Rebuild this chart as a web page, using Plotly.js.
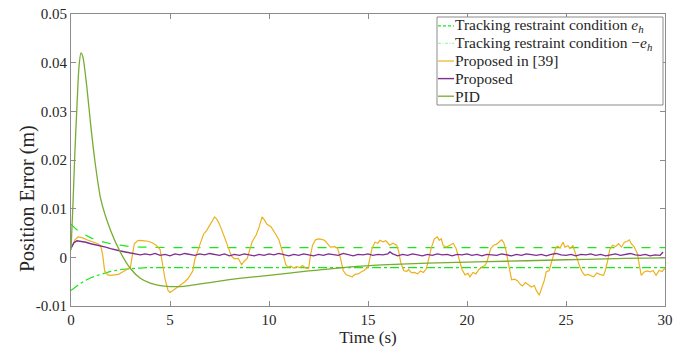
<!DOCTYPE html>
<html>
<head>
<meta charset="utf-8">
<script src="https://cdn.plot.ly/plotly-3.0.1.min.js"></script>
<style>html,body{margin:0;padding:0;background:#fff;}#chart{width:687px;height:354px;}</style>
</head>
<body>
<div id="chart"></div>
<script>
// ---- data ----
var boundT = [0, 0.25, 0.5, 0.75, 1.0, 1.5, 2.0, 2.5, 3.0, 3.5, 4.0, 5.0, 10, 15, 20, 25, 30];
var boundUpper = [0.0068, 0.0058, 0.0051, 0.0045, 0.0040, 0.0033, 0.0028, 0.0025, 0.0022, 0.0021, 0.00205, 0.0020, 0.0020, 0.0020, 0.0020, 0.0020, 0.0020];
var boundLower = [-0.0068, -0.0060, -0.0053, -0.0047, -0.0042, -0.0035, -0.0029, -0.0025, -0.0023, -0.0022, -0.0021, -0.0021, -0.0021, -0.0021, -0.0021, -0.0021, -0.0021];

var refT = [0,0.1,0.2,0.35,0.5,0.6,0.8,1.0,1.2,1.35,1.5,1.6,1.7,1.85,2.0,2.2,2.4,2.6,2.8,3.0,3.1,3.2,3.35,3.5,3.7,3.9,4.1,4.3,4.5,4.6,4.75,4.9,5.0,5.15,5.35,5.55,5.75,5.9,6.05,6.15,6.25,6.35,6.5,6.7,6.85,6.95,7.1,7.25,7.35,7.45,7.6,7.75,7.95,8.1,8.25,8.45,8.55,8.62,8.75,8.9,9.0,9.15,9.35,9.5,9.65,9.75,9.9,10.1,10.3,10.5,10.7,10.85,10.95,11.1,11.25,11.4,11.55,11.7,11.85,12.0,12.1,12.2,12.35,12.5,12.65,12.8,12.95,13.1,13.3,13.45,13.6,13.75,13.9,14.05,14.2,14.35,14.5,14.65,14.8,15.0,15.1,15.2,15.35,15.5,15.6,15.75,15.9,16.0,16.1,16.25,16.45,16.55,16.65,16.8,16.95,17.05,17.2,17.35,17.5,17.65,17.8,17.95,18.1,18.2,18.35,18.5,18.6,18.7,18.8,18.95,19.1,19.3,19.45,19.6,19.75,19.9,20.05,20.15,20.3,20.45,20.6,20.75,20.9,21.0,21.1,21.2,21.35,21.5,21.6,21.75,21.85,21.95,22.05,22.15,22.25,22.4,22.55,22.7,22.8,22.95,23.1,23.25,23.4,23.5,23.65,23.8,23.9,24.0,24.15,24.3,24.4,24.5,24.6,24.7,24.85,24.95,25.1,25.2,25.35,25.45,25.55,25.7,25.85,25.95,26.1,26.25,26.4,26.55,26.7,26.9,27.0,27.1,27.2,27.35,27.5,27.65,27.8,27.95,28.1,28.2,28.3,28.45,28.6,28.7,28.8,28.95,29.1,29.25,29.4,29.55,29.7,29.85,30.0];
var refV = [0.0018,0.0028,0.0036,0.0042,0.0041,0.0040,0.0036,0.0033,0.0030,0.0028,0.0024,0.0005,-0.0028,-0.0036,-0.0037,-0.0036,-0.0035,-0.0030,-0.0026,-0.0021,0.0005,0.0028,0.0034,0.0035,0.0034,0.0033,0.0030,0.0025,0.0016,-0.0010,-0.0045,-0.0068,-0.0072,-0.0068,-0.0062,-0.0057,-0.0050,-0.0044,-0.0035,-0.0028,-0.0005,0.0008,0.0025,0.0048,0.0055,0.0062,0.0072,0.0083,0.0079,0.0072,0.0058,0.0042,0.0018,0.0003,-0.0003,-0.0002,-0.0010,-0.0015,-0.0008,-0.0002,0.0012,0.0032,0.0046,0.0062,0.0083,0.0078,0.0068,0.0063,0.0050,0.0036,0.0008,-0.0015,-0.0020,-0.0018,-0.0022,-0.0019,-0.0021,-0.0017,-0.0022,-0.0023,0.0005,0.0025,0.0036,0.0038,0.0037,0.0035,0.0028,0.0021,0.0022,0.0020,0.0000,-0.0027,-0.0036,-0.0038,-0.0040,-0.0035,-0.0034,-0.0030,-0.0027,-0.0020,0.0002,0.0018,0.0031,0.0029,0.0035,0.0032,0.0034,0.0030,0.0025,0.0029,0.0025,0.0012,-0.0010,-0.0027,-0.0029,-0.0025,-0.0032,-0.0031,-0.0034,-0.0028,-0.0031,-0.0023,0.0005,0.0020,0.0038,0.0042,0.0035,0.0038,0.0024,0.0021,0.0024,0.0029,0.0018,-0.0005,-0.0025,-0.0036,-0.0033,-0.0040,-0.0031,-0.0034,-0.0025,-0.0020,-0.0017,-0.0010,0.0005,0.0018,0.0025,0.0027,0.0031,0.0036,0.0031,0.0018,-0.0003,-0.0025,-0.0046,-0.0045,-0.0048,-0.0056,-0.0059,-0.0052,-0.0056,-0.0061,-0.0058,-0.0068,-0.0078,-0.0060,-0.0048,-0.0030,-0.0027,-0.0005,0.0008,0.0021,0.0023,0.0019,0.0031,0.0021,0.0024,0.0018,0.0024,0.0012,-0.0003,-0.0020,-0.0032,-0.0037,-0.0035,-0.0038,-0.0040,-0.0032,-0.0035,-0.0037,-0.0025,-0.0008,0.0015,0.0025,0.0022,0.0028,0.0021,0.0031,0.0033,0.0036,0.0028,0.0021,0.0008,-0.0015,-0.0037,-0.0030,-0.0028,-0.0030,-0.0027,-0.0037,-0.0027,-0.0029,-0.0022];

var propT = [0,0.15,0.3,0.5,0.75,1.0,1.25,1.5,1.75,2.0,2.25,2.5,2.75,3.0,3.25,3.5,3.75,4.0,4.25,4.5,4.75,5.0,5.25,5.5,5.75,6.0,6.25,6.5,6.75,7.0,7.25,7.5,7.75,8.0,8.25,8.5,8.75,9.0,9.25,9.5,9.75,10.0,10.25,10.5,10.75,11.0,11.25,11.5,11.75,12.0,12.25,12.5,12.75,13.0,13.25,13.5,13.75,14.0,14.25,14.5,14.75,15.0,15.25,15.5,15.75,16.0,16.1,16.25,16.5,16.75,17.0,17.25,17.5,17.75,18.0,18.25,18.5,18.75,19.0,19.25,19.5,19.75,20.0,20.25,20.5,20.75,21.0,21.25,21.5,21.75,22.0,22.25,22.5,22.75,23.0,23.25,23.5,23.75,24.0,24.25,24.5,24.75,25.0,25.25,25.5,25.75,26.0,26.25,26.5,26.75,27.0,27.25,27.5,27.75,28.0,28.25,28.5,28.75,29.0,29.25,29.5,29.75,29.9,30.0];
var propV = [0.0019,0.0030,0.0034,0.0033,0.0031,0.0028,0.0026,0.0024,0.0021,0.0018,0.0015,0.0013,0.0011,0.0009,0.00075,0.0005,0.0007,0.0005,0.0008,0.0004,0.0006,0.0003,0.0007,0.0005,0.0008,0.0006,0.0004,0.0007,0.0005,0.0008,0.0006,0.0004,0.0007,0.0003,0.0006,0.0004,0.0007,0.0005,0.0003,0.0006,0.0004,0.0007,0.0005,0.0008,0.0005,0.0003,0.0006,0.0004,0.0007,0.0005,0.0003,0.0006,0.0004,0.0007,0.0005,0.0004,0.0008,0.0006,0.0003,0.0006,0.0005,0.0007,0.0004,0.0006,0.0005,0.0007,0.0011,0.0007,0.0003,0.0006,0.0004,0.0007,0.0005,0.0003,0.0006,0.0004,0.0007,0.0005,0.0006,0.0003,0.0006,0.0005,0.0007,0.0004,0.0006,0.0003,0.0006,0.0005,0.0004,0.0007,0.0005,0.0003,0.0006,0.0004,0.0007,0.0005,0.0004,0.0006,0.0003,0.0006,0.0008,0.0005,0.0004,0.0006,0.0003,0.0006,0.0005,0.0007,0.0004,0.0006,0.0003,0.0005,0.0007,0.0004,0.0006,0.0008,0.0005,0.0004,0.0006,0.0003,0.0005,0.0004,0.0011];

var pidT = [0,0.1,0.2,0.3,0.4,0.5,0.6,0.8,1.0,1.2,1.5,2.0,2.5,3.0,3.5,4.0,4.5,5.0,5.5,6.0,7.0,8.0,9.0,10,12,14,16,18,20,22,24,26,28,30];
var pidV = [0.0015,0.011,0.022,0.031,0.039,0.042,0.0412,0.035,0.027,0.020,0.012,0.0055,0.0010,-0.0023,-0.0043,-0.0053,-0.0058,-0.0060,-0.0060,-0.0058,-0.0052,-0.0046,-0.0041,-0.0037,-0.0028,-0.0020,-0.0015,-0.0012,-0.0010,-0.0008,-0.0006,-0.0004,-0.0002,-0.0001];

var xTicks = [0, 5, 10, 15, 20, 25, 30];
var yTicks = [-0.01, 0, 0.01, 0.02, 0.03, 0.04, 0.05];
var yTickText = ['-0.01', '0', '0.01', '0.02', '0.03', '0.04', '0.05'];

var names = [
  'Tracking restraint condition <i>e</i><sub><i>h</i></sub>',
  'Tracking restraint condition \u2212<i>e</i><sub><i>h</i></sub>',
  'Proposed in [39]',
  'Proposed',
  'PID'
];
var xTitle = 'Time (s)';
var yTitle = 'Position Error (m)';

// ---- styles ----
var FONT = 'Liberation Serif';
var TXT = '#262626';
var styles = [
  {color: 'rgb(20,235,20)', width: 1.2, dash: 'dash'},
  {color: 'rgb(20,235,20)', width: 1.2, dash: 'dashdot'},
  {color: '#EDB120', width: 1.2},
  {color: '#7E2F8E', width: 1.4},
  {color: '#77AC30', width: 1.3, shape: 'spline', smoothing: 0.6}
];
var legendDash = ['3px,2px', '3px,1.5px,1px,1.5px', 'solid', 'solid', 'solid'];
var legendColor = ['rgb(20,235,20)', 'rgb(170,245,170)', '#EDB120', '#7E2F8E', '#77AC30'];
var series = [[boundT, boundUpper], [boundT, boundLower], [refT, refV], [propT, propV], [pidT, pidV]];
var traces = series.map(function (s, i) {
  return {x: s[0], y: s[1], name: names[i], mode: 'lines', line: styles[i], showlegend: false};
});

// layout geometry (pixels)
var W = 687, H = 354, ML = 71, MR = 22, MT = 14, MB = 48;
var PW = W - ML - MR, PH = H - MT - MB;
function px2x(p) { return (p - ML) / PW; }
function px2y(p) { return (H - MB - p) / PH; }

function axisBase() {
  return {
    showgrid: false, zeroline: false, showline: true, mirror: 'allticks',
    linecolor: '#8c8c8c', linewidth: 1, ticks: 'inside', ticklen: 5, tickcolor: '#8c8c8c',
    tickfont: {family: FONT, size: 15, color: TXT}
  };
}
var xa = axisBase();
xa.range = [0, 30]; xa.tickvals = xTicks; xa.ticktext = xTicks.map(String);
xa.title = {text: xTitle, font: {family: FONT, size: 17, color: TXT}, standoff: 4};
var ya = axisBase();
ya.range = [-0.01, 0.05]; ya.tickvals = yTicks; ya.ticktext = yTickText;

// custom legend box (matches reference box with short line samples)
var legL = 437, legR = 663, legT = 17, legB = 105;
var rowH = (legB - legT) / names.length;
var shapes = [{
  type: 'rect', xref: 'paper', yref: 'paper',
  x0: px2x(legL), x1: px2x(legR), y0: px2y(legB), y1: px2y(legT),
  line: {color: '#8c8c8c', width: 1}, fillcolor: '#fff', layer: 'above'
}];
var annotations = [{
  text: yTitle, xref: 'paper', yref: 'paper', x: px2x(27), y: px2y(199),
  xanchor: 'center', yanchor: 'middle', textangle: -90, showarrow: false,
  font: {family: FONT, size: 20, color: TXT}
}];
names.forEach(function (nm, i) {
  var cy = legT + rowH * (i + 0.5);
  shapes.push({
    type: 'line', xref: 'paper', yref: 'paper', layer: 'above',
    x0: px2x(legL + 1), x1: px2x(legL + 17), y0: px2y(cy), y1: px2y(cy),
    line: {color: legendColor[i], width: styles[i].width, dash: legendDash[i]}
  });
  annotations.push({
    text: nm, xref: 'paper', yref: 'paper', x: px2x(legL + 17), y: px2y(cy),
    xanchor: 'left', yanchor: 'middle', showarrow: false,
    font: {family: FONT, size: 15.5, color: TXT}, borderpad: 0
  });
});

var layout = {
  width: W, height: H,
  margin: {l: ML, r: MR, t: MT, b: MB},
  paper_bgcolor: '#fff', plot_bgcolor: '#fff',
  font: {family: FONT, color: TXT, size: 15},
  xaxis: xa, yaxis: ya,
  shapes: shapes, annotations: annotations,
  showlegend: false
};

Plotly.newPlot('chart', traces, layout, {staticPlot: true, displayModeBar: false});
</script>
</body>
</html>
